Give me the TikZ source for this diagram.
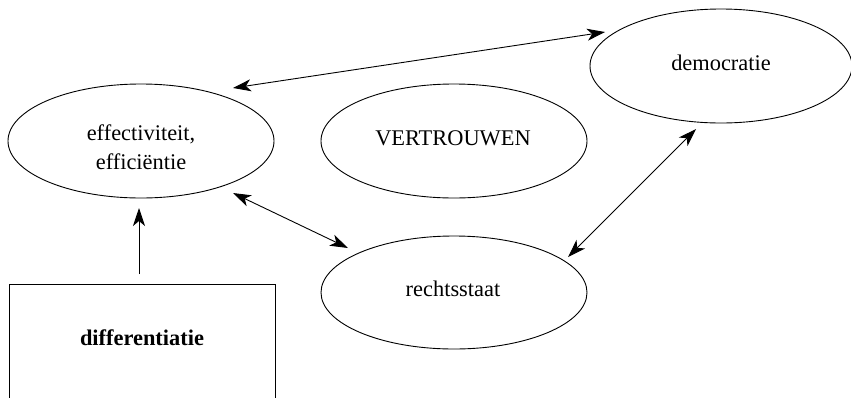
\documentclass[tikz,border=0pt]{standalone}
\usepackage{fontspec}
\setmainfont{Liberation Serif}
\newfontfamily\timesfont{Liberation Serif}
\usetikzlibrary{shapes.geometric,arrows.meta}
\tikzset{
  oval/.style={draw, ellipse, line width=0.9pt, inner sep=0pt, minimum width=266pt, minimum height=114pt},
  lbl/.style={anchor=base, inner sep=0pt, font=\timesfont\fontsize{22.4}{29}\selectfont},
  conn/.style={line width=0.9pt, {Stealth[length=18pt,width=12pt,inset=5pt]}-{Stealth[length=18pt,width=12pt,inset=5pt]}},
  oneway/.style={line width=0.9pt, -{Stealth[length=18pt,width=12pt,inset=5pt]}}
}
\begin{document}
\begin{tikzpicture}[x=1pt,y=-1pt]
\useasboundingbox (0,0) rectangle (851,397);
\clip (0,0) rectangle (851,397);
% ellipses
\node[oval] (eff) at (141,141) {};
\node[oval] (vert) at (454,141) {};
\node[oval, minimum width=262pt] (dem) at (721,66) {};
\node[oval, minimum width=266pt, minimum height=113pt] (recht) at (454,292.5) {};
% labels
\node[lbl] (teff1) at (141,140) {effectiviteit,};
\node[lbl] (teff2) at (141,169) {efficiëntie};
\node[lbl] (tvert) at (453,145) {VERTROUWEN};
\node[lbl] (tdem) at (721,70) {democratie};
\node[lbl] (trecht) at (453,296) {rechtsstaat};
% box
\coordinate (bl) at (9,420);
\coordinate (tl) at (9,284);
\coordinate (tr) at (275,284);
\coordinate (br) at (275,420);
\draw[line width=0.9pt] (bl) -- (tl) -- (tr) -- (br);
\node[lbl, font=\timesfont\fontsize{22.4}{29}\selectfont\bfseries] (diff) at (142,345) {differentiatie};
% connector end points
\coordinate (a1) at (233,88);
\coordinate (a2) at (605,32);
\coordinate (b1) at (233,193);
\coordinate (b2) at (348,248);
\coordinate (c1) at (568,257);
\coordinate (c2) at (696,129);
\coordinate (d1) at (139,274);
\coordinate (d2) at (139,208);
\draw[conn] (a1) -- (a2);
\draw[conn] (b1) -- (b2);
\draw[conn] (c1) -- (c2);
\draw[oneway] (d1) -- (d2);
\end{tikzpicture}
\end{document}
